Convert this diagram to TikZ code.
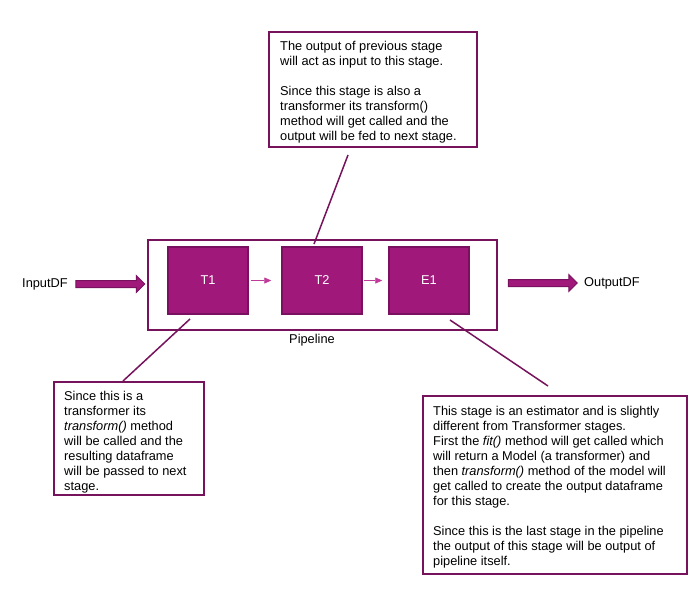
\documentclass[tikz,border=0pt]{standalone}
\usepackage{fontspec}
\setmainfont{Liberation Sans}
\usetikzlibrary{shapes.arrows,arrows.meta}
\definecolor{stagefill}{HTML}{A0197A}
\definecolor{stageedge}{HTML}{7A1060}
\definecolor{frame}{HTML}{76135C}
\definecolor{linkcol}{HTML}{C03A9A}
\begin{document}
\begin{tikzpicture}[x=1pt,y=-1pt,
  stagebox/.style={draw=stageedge, fill=stagefill, line width=1.5pt, minimum width=80pt, minimum height=67pt, inner sep=0pt, text=white, font=\fontsize{12.8}{14}\selectfont},
  pipebox/.style={draw=frame, line width=2pt, minimum width=349pt, minimum height=90pt, inner sep=0pt},
  notebox/.style={draw=frame, line width=2pt, anchor=north west, inner sep=0pt},
  notetext/.style={anchor=north west, inner sep=0pt, align=left, font=\fontsize{12.8}{15}\selectfont},
  label/.style={font=\fontsize{12.8}{14}\selectfont, inner sep=0pt},
  flowarrow/.style={single arrow, draw=stageedge, fill=stagefill, line width=1pt, single arrow head extend=5pt, inner xsep=0pt, inner ysep=3pt, minimum height=69pt},
  stagelink/.style={draw=linkcol, line width=0.8pt, -{Triangle[width=6pt,length=7pt]}},
  callline/.style={draw=frame, line width=1.5pt}
]
\useasboundingbox (0,0) rectangle (700,590);
\fill[white] (0,0) rectangle (700,590);

% pipeline
\node[pipebox] (pipe) at (322.5,285) {};
\node[stagebox] (t1) at (208,280.5) {T1};
\node[stagebox] (t2) at (322,280.5) {T2};
\node[stagebox] (e1) at (429,280.5) {E1};
\draw[stagelink, shorten <=2pt, shorten >=10pt] (t1) -- (t2);
\draw[stagelink, shorten <=1pt, shorten >=6pt] (t2) -- (e1);
\node[label] (plabel) at (312,340) {Pipeline};

% input / output
\node[label, anchor=west] (indf) at (22,284) {InputDF};
\node[flowarrow] (inarr) at (108.5,284) {};
\node[flowarrow] (outarr) at (541,283) {};
\node[label, anchor=west] (outdf) at (584,283) {OutputDF};

% top note
\node[notebox, minimum width=208pt, minimum height=115pt] (topnote) at (268,31) {};
\node[notetext] (toptext) at (280,41) {The output of previous stage\\
will act as input to this stage.\\[15pt]
Since this stage is also a\\
transformer its transform()\\
method will get called and the\\
output will be fed to next stage.};
\coordinate (topa) at (348,155);
\coordinate (topb) at (314,244);
\draw[callline] (topa) -- (topb);

% left note
\node[notebox, minimum width=150pt, minimum height=113pt] (leftnote) at (53,381) {};
\node[notetext] (lefttext) at (64,391) {Since this is a\\
transformer its\\
\textit{transform()} method\\
will be called and the\\
resulting dataframe\\
will be passed to next\\
stage.};
\coordinate (lefta) at (190,319);
\coordinate (leftb) at (123,381);
\draw[callline] (lefta) -- (leftb);

% right note
\node[notebox, minimum width=264pt, minimum height=178pt] (rightnote) at (422,395) {};
\node[notetext] (righttext) at (433,406) {This stage is an estimator and is slightly\\
different from Transformer stages.\\
First the \textit{fit()} method will get called which\\
will return a Model (a transformer) and\\
then \textit{transform()} method of the model will\\
get called to create the output dataframe\\
for this stage.\\[15pt]
Since this is the last stage in the pipeline\\
the output of this stage will be output of\\
pipeline itself.};
\coordinate (righta) at (450,320);
\coordinate (rightb) at (548,386);
\draw[callline] (righta) -- (rightb);
\end{tikzpicture}
\end{document}
